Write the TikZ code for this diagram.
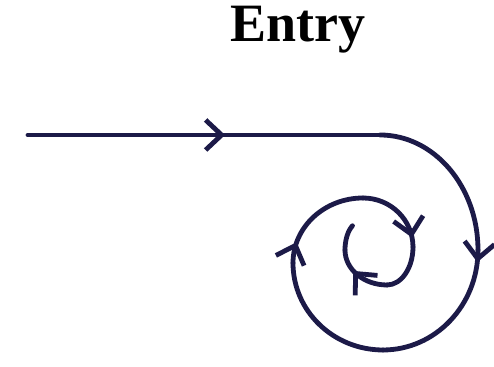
\documentclass[tikz,border=0pt]{standalone}
\usepackage{fontspec}
\setmainfont{Liberation Serif}
\usetikzlibrary{arrows.meta,decorations.markings}

\definecolor{ink}{RGB}{28,26,72}

\tikzset{
  spiral/.style={ink,line width=2.4pt,line cap=round,line join=round},
  midarrow/.style={postaction={decorate},decoration={markings,
    mark=at position #1 with {\arrow{Straight Barb[length=8pt,width=15pt,line width=2.4pt]}}}}
}

\begin{document}
\begin{tikzpicture}[x=0.5pt,y=0.5pt]
\useasboundingbox (0,0) rectangle (494,367);
%\draw[help lines,step=50] (0,0) grid (494,367);

\node (title) at (298,337) {\fontsize{27}{30}\selectfont\textbf{Entry}};

\coordinate (in) at (28,232);
\coordinate (turn) at (380,232);
\coordinate (outR) at (478,117);
\coordinate (outB) at (383,17);
\coordinate (outL) at (293,104);
\coordinate (midT) at (363,169);
\coordinate (midR) at (413,120);
\coordinate (inB) at (387,82);
\coordinate (inL) at (345,117);

% straight run in, then the spiral quarter by quarter
\draw [spiral,midarrow=0.56] (in) -- (turn);
\draw [spiral] (turn) arc [start angle=90, end angle=0, x radius=98, y radius=115];
\draw [spiral,midarrow=0.08] (outR) arc [start angle=0, end angle=-90, x radius=95, y radius=100];
\draw [spiral] (outB) arc [start angle=-90, end angle=-180, x radius=90, y radius=87];
\draw [spiral,midarrow=0.2] (outL) arc [start angle=180, end angle=90, x radius=70, y radius=65];
\draw [spiral,midarrow=0.88] (midT) arc [start angle=90, end angle=0, x radius=50, y radius=49];
\draw [spiral] (midR) arc [start angle=0, end angle=-90, x radius=26, y radius=38];
\draw [spiral,midarrow=0.62] (inB) arc [start angle=-90, end angle=-180, x radius=42, y radius=35];
\draw [spiral] (inL) arc [start angle=180, end angle=120, x radius=15, y radius=28];
\end{tikzpicture}
\end{document}
